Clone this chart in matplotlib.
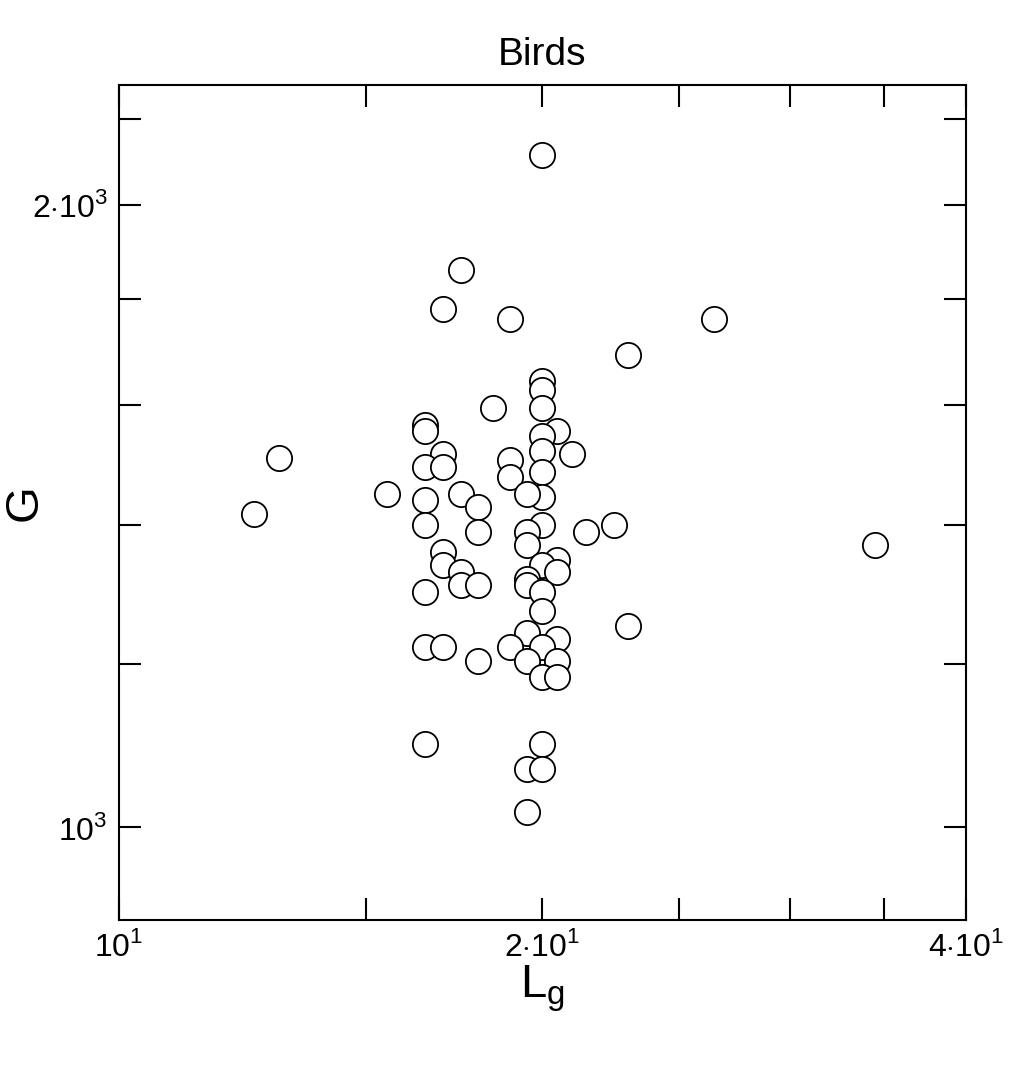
import matplotlib
matplotlib.use("Agg")
import matplotlib.pyplot as plt
from matplotlib.ticker import FixedLocator, NullFormatter

plt.rcParams['font.family'] = ['Liberation Sans', 'DejaVu Sans']
plt.rcParams['mathtext.fontset'] = 'custom'
plt.rcParams['mathtext.rm'] = 'Liberation Sans'

# Lg values (body length proxy) and G values
lg = [20.0, 17.5, 17.0, 18.96, 26.5, 23.0, 20.0, 20.0, 18.45, 20.0,
      16.5, 16.5, 20.5, 20.0, 13.0, 20.0, 21.0, 17.0, 18.96, 16.5,
      17.0, 20.0, 18.96, 15.5, 17.5, 16.5, 18.0, 20.0, 19.5, 12.47,
      16.5, 18.0, 20.0, 21.5, 22.5, 19.5, 34.5, 19.5, 17.0, 20.5,
      17.0, 17.5, 20.0, 20.5, 17.5, 18.0, 19.5, 19.5, 16.5, 20.0,
      20.0, 23.0, 19.5, 20.5, 16.5, 17.0, 18.96, 20.0, 18.0, 19.5,
      20.5, 20.0, 20.5, 16.5, 20.0, 19.5, 20.0, 19.5]
g = [2114, 1861, 1782, 1762, 1762, 1693, 1643, 1628, 1596, 1596,
     1566, 1554, 1554, 1547, 1508, 1521, 1516, 1516, 1506, 1494,
     1494, 1486, 1478, 1449, 1449, 1440, 1429, 1445, 1449, 1418,
     1401, 1390, 1401, 1390, 1401, 1390, 1370, 1370, 1359, 1347,
     1339, 1329, 1339, 1329, 1310, 1310, 1318, 1310, 1300, 1300,
     1272, 1252, 1241, 1233, 1223, 1223, 1223, 1223, 1203, 1203,
     1203, 1182, 1182, 1097, 1097, 1067, 1067, 1017]

fig = plt.figure(figsize=(10.24, 10.74), dpi=100)
ax = fig.add_axes([0.116, 0.1434, 0.827, 0.7776])
ax.scatter(lg, g, s=330, facecolors='white', edgecolors='black', linewidths=1.3, zorder=3)

ax.set_xscale('log')
ax.set_yscale('log')
ax.set_xlim(10, 40)
ax.set_ylim(902, 2286)

ax.xaxis.set_major_locator(FixedLocator([10, 20, 40]))
ax.xaxis.set_minor_locator(FixedLocator([15, 25, 30, 35]))
ax.set_xticklabels([r'$10^{1}$', r'$2{\cdot}10^{1}$', r'$4{\cdot}10^{1}$'])
ax.xaxis.set_minor_formatter(NullFormatter())
ax.yaxis.set_major_locator(FixedLocator([1000, 2000]))
ax.yaxis.set_minor_locator(FixedLocator([1200, 1400, 1600, 1800, 2200]))
ax.set_yticklabels([r'$10^{3}$', r'$2{\cdot}10^{3}$'])
ax.yaxis.set_minor_formatter(NullFormatter())

ax.tick_params(axis='both', which='both', direction='in', length=16, width=1.5,
               top=True, right=True, labelsize=23)
ax.tick_params(axis='both', which='major', pad=8)
for sp in ax.spines.values():
    sp.set_linewidth(1.5)

ax.set_title('Birds', fontsize=28, pad=14)
ax.set_xlabel(r'L$_\mathregular{g}$', fontsize=34, labelpad=0)
ax.set_ylabel('G', fontsize=34)
ax.yaxis.set_label_coords(-0.085, 0.5)

fig.savefig('out.png', dpi=100)
